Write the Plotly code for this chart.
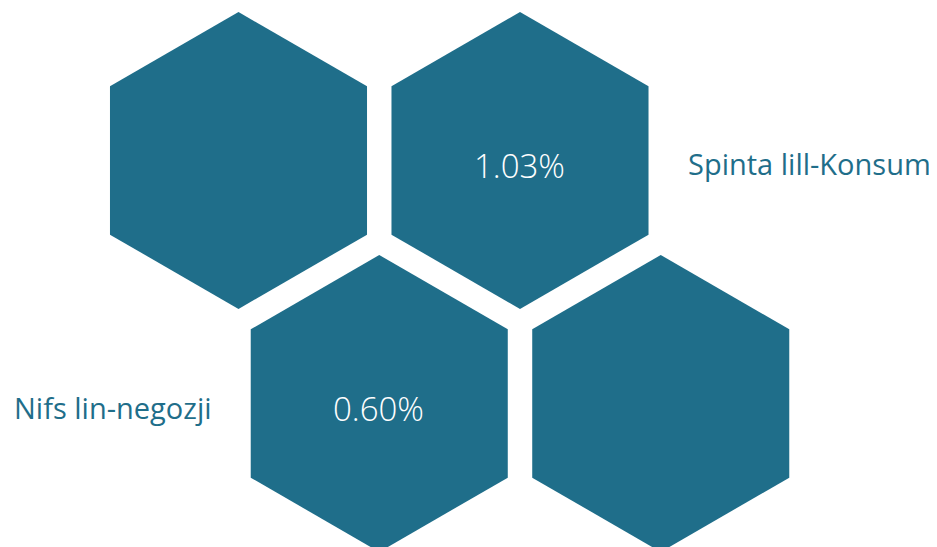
import math
import plotly.graph_objects as go

# ---- data ----
categories = ["Spinta lill-Konsum", "Nifs lin-negozji"]
values = [1.03, 0.60]
# hex grid cells: (row, col) and which category (index) sits in each, None = empty
cell_rows = [0, 0, 1, 1]
cell_cols = [0, 1, 0, 1]
cell_category = [None, 0, 1, None]
label_side = ["right", "left"]

# ---- layout constants (pixels) ----
W, H = 937, 547
OFF = 8                         # page body margin
COLOR = "#1f6e8a"
R = 148.4                       # hex circumradius
DX = 281.5                      # horizontal centre spacing
DY = 243.0                      # vertical row spacing
X0, Y0 = 238.5, 160.5           # centre of first cell

fig = go.Figure()

def hex_pts(cx, cy, r):
    xs, ys = [], []
    for k in range(7):
        a = math.radians(90 + 60 * k)
        xs.append(cx + r * math.cos(a))
        ys.append(cy - r * math.sin(a))
    return xs, ys

for r_, c_, cat in zip(cell_rows, cell_cols, cell_category):
    cx = X0 + c_ * DX + (DX / 2 if r_ % 2 else 0)
    cy = Y0 + r_ * DY
    xs, ys = hex_pts(cx, cy, R)
    fig.add_trace(go.Scatter(x=xs, y=ys, mode="lines", fill="toself",
                             fillcolor=COLOR, line=dict(width=0, color=COLOR),
                             hoverinfo="skip", showlegend=False))
    if cat is not None:
        fig.add_annotation(x=cx - 1, y=cy + 5, text=f"{values[cat]:.2f}%",
                           showarrow=False, xanchor="center", yanchor="middle",
                           font=dict(family="Open Sans", size=33, color="white", weight=300))
        hw = R * math.sqrt(3) / 2
        if label_side[cat] == "right":
            fig.add_annotation(x=cx + hw + 37, y=cy + 3, text=categories[cat],
                               showarrow=False, xanchor="left", yanchor="middle",
                               font=dict(family="Open Sans", size=29, color=COLOR))
        else:
            fig.add_annotation(x=cx - hw - 37, y=cy + 4, text=categories[cat],
                               showarrow=False, xanchor="right", yanchor="middle",
                               font=dict(family="Open Sans", size=29, color=COLOR))

fig.update_layout(
    width=W, height=H,
    margin=dict(l=0, r=0, t=0, b=0),
    paper_bgcolor="white", plot_bgcolor="white",
    xaxis=dict(range=[OFF, W + OFF], visible=False, fixedrange=True),
    yaxis=dict(range=[H + OFF, OFF], visible=False, fixedrange=True),
)
fig.write_html("out.html", config={"displayModeBar": False})
